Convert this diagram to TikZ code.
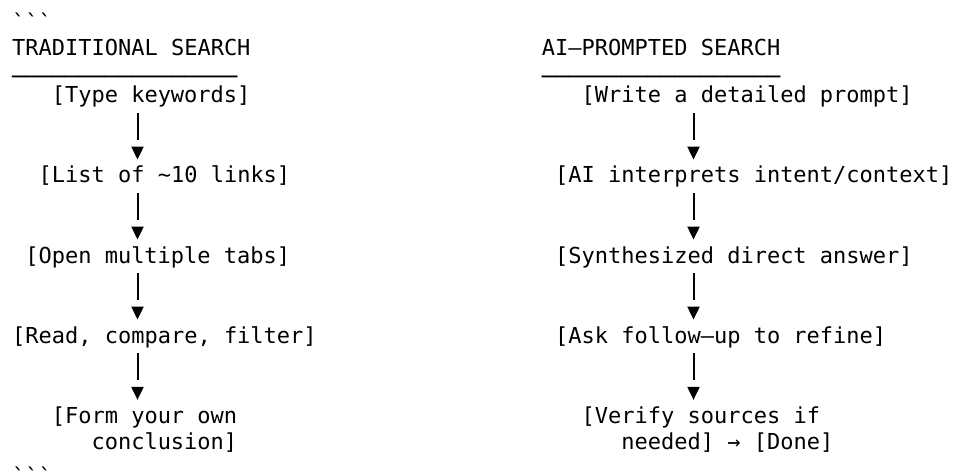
\documentclass[tikz,border=0pt]{standalone}
\usepackage{fontspec}
\setmonofont{DejaVu Sans Mono}
\usetikzlibrary{arrows.meta}

\tikzset{
  every node/.style={font=\ttfamily\fontsize{11}{13}\selectfont, inner sep=0pt},
  lbl/.style={anchor=base west},
  rulerow/.style={lbl, text depth=0pt},
  stepbox/.style={anchor=base west, text height=8.5pt, text depth=2.5pt},
  twoline/.style={stepbox, text height=, text depth=, align=left},
  flow/.style={line width=1pt, dash pattern=on 13.5pt off 20pt,
    shorten <=2.5pt, shorten >=3pt, -{Triangle[width=6pt,length=6.5pt]}}
}

\begin{document}
\begin{tikzpicture}[x=0.5pt,y=-0.5pt]
\useasboundingbox (0,0) rectangle (980,476);
\coordinate (laxis) at (137.5,0);
\coordinate (raxis) at (693.5,0);
% fences and headings
\node[lbl] (fencetop) at (11.7,31) {\textasciigrave\textasciigrave\textasciigrave};
\node[lbl] (fencebot) at (11.7,484) {\textasciigrave\textasciigrave\textasciigrave};
\node[lbl] (lhead) at (11.7,56) {TRADITIONAL SEARCH};
\node[rulerow] (lrule) at (11.7,85) {─────────────────};
\node[lbl] (rhead) at (541.5,56) {AI–PROMPTED SEARCH};
\node[rulerow] (rrule) at (541.5,85) {──────────────────};
% left column
\node[stepbox] (type) at (51.4,103) {[Type keywords]};
\node[stepbox] (list) at (38.2,183) {[List of \textasciitilde10 links]};
\node[stepbox] (tabs) at (24.9,263) {[Open multiple tabs]};
\node[stepbox] (read) at (11.7,343) {[Read, compare, filter]};
\node[twoline] (form) at (51.4,449) {[Form your own\\\hphantom{[Fo}conclusion]};
% right column
\node[stepbox] (prompt) at (581.2,103) {[Write a detailed prompt]};
\node[stepbox] (interp) at (554.7,183) {[AI interprets intent/context]};
\node[stepbox] (answer) at (554.7,263) {[Synthesized direct answer]};
\node[stepbox] (refine) at (554.7,343) {[Ask follow–up to refine]};
\node[twoline] (verify) at (581.2,449) {[Verify sources if\\\hphantom{[Ve}needed] → [Done]};
% connectors
\draw[flow] (type.south -| laxis) -- (list.north -| laxis);
\draw[flow] (list.south -| laxis) -- (tabs.north -| laxis);
\draw[flow] (tabs.south -| laxis) -- (read.north -| laxis);
\draw[flow] (read.south -| laxis) -- (form.north -| laxis);
\draw[flow] (prompt.south -| raxis) -- (interp.north -| raxis);
\draw[flow] (interp.south -| raxis) -- (answer.north -| raxis);
\draw[flow] (answer.south -| raxis) -- (refine.north -| raxis);
\draw[flow] (refine.south -| raxis) -- (verify.north -| raxis);
\end{tikzpicture}
\end{document}
